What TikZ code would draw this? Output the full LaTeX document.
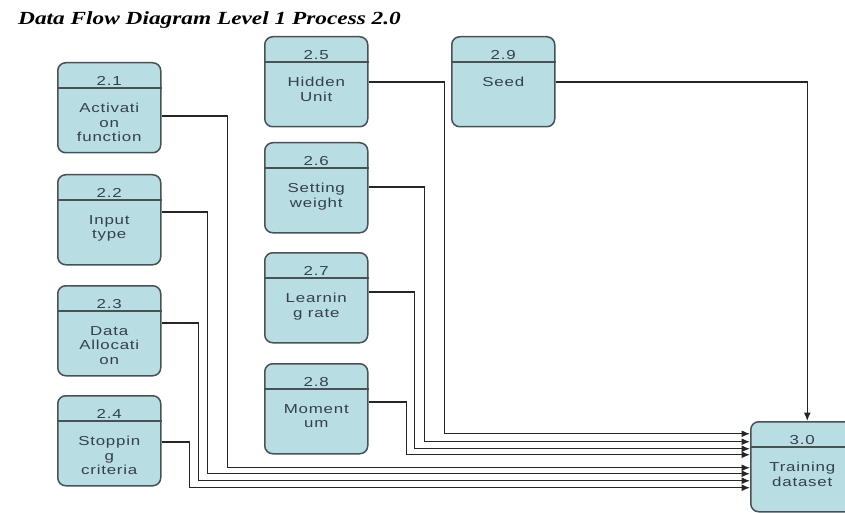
\documentclass[tikz,border=0pt]{standalone}
\usepackage{fontspec}
\setmainfont{Liberation Serif}
\newfontfamily\titlefont[FakeStretch=1.26]{Liberation Serif}
\newfontfamily\boxfont[FakeStretch=1.3,LetterSpace=6]{Liberation Sans}
\usetikzlibrary{arrows.meta}

\definecolor{procfill}{RGB}{184,221,227}
\definecolor{procedge}{RGB}{72,82,84}
\definecolor{proctextc}{RGB}{52,64,74}

\tikzset{
  procbox/.style={draw=procedge,fill=procfill,line width=1.5pt,rounded corners=8pt,
    minimum width=103pt,minimum height=90pt,inner sep=0pt},
  procline/.style={draw=procedge,line width=1.2pt},
  procnum/.style={font=\boxfont\fontsize{13}{15}\selectfont,text=proctextc,inner sep=2pt},
  proctext/.style={font=\boxfont\fontsize{13}{14.5}\selectfont,text=proctextc,align=center,inner sep=0pt},
  flow/.style={draw=black!85,line width=1.3pt,-{Latex[length=8.5pt,width=7pt]}}
}

% process box: name, top-left corner, number, text
\newcommand{\dfdproc}[4]{%
  \node[procbox,anchor=north west] (#1) at (#2) {};
  \draw[procline] ([yshift=-26pt]#1.north west) -- ([yshift=-26pt]#1.north east);
  \node[procnum,anchor=south] (#1-num) at ([yshift=-26pt]#1.north) {#3};
  \node[proctext,anchor=north] (#1-txt) at ([yshift=-41pt]#1.north) {#4};
}

\begin{document}
\begin{tikzpicture}[x=1pt,y=-1pt]
  \useasboundingbox (0,0) rectangle (845,513);

  % Title
  \node[anchor=base west,inner sep=0pt,font=\titlefont\bfseries\itshape\fontsize{18.5}{20}\selectfont]
    (title) at (18,25) {Data Flow Diagram Level 1 Process 2.0};

  % Left column
  \dfdproc{p21}{57,62}{2.1}{Activati\\on\\function}
  \dfdproc{p22}{57,174}{2.2}{Input\\type}
  \dfdproc{p23}{57,285}{2.3}{Data\\Allocati\\on}
  \dfdproc{p24}{57,395}{2.4}{Stoppin\\g\\criteria}

  % Middle column
  \dfdproc{p25}{264,36}{2.5}{Hidden\\Unit}
  \dfdproc{p26}{264,142}{2.6}{Setting\\weight}
  \dfdproc{p27}{264,252}{2.7}{Learnin\\g rate}
  \dfdproc{p28}{264,363}{2.8}{Moment\\um}

  % Seed
  \dfdproc{p29}{451,36}{2.9}{Seed}

  % Target process
  \dfdproc{p30}{750,421}{3.0}{Training\\dataset}

  % Flows into 3.0
  \foreach \src/\dy/\dx/\ey in {p25/46/76/33, p26/45/56/25, p27/40/46/18, p28/39/38/12,
                                p21/54/66/-1, p22/38/46/-7, p23/38/37/-14, p24/47/28/-21}{
    \draw[flow] ([yshift=-\dy pt]\src.north east) -- ++(\dx,0) |- ([yshift=\ey pt]p30.west);
  }
  \draw[flow] ([yshift=-46pt]p29.north east) -| ([xshift=5pt]p30.north);

\end{tikzpicture}
\end{document}
